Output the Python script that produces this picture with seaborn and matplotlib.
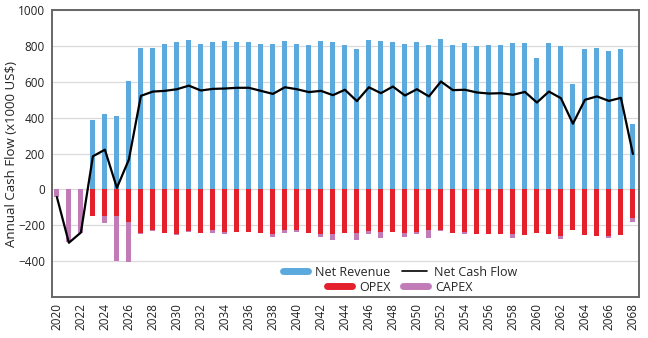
import matplotlib
matplotlib.use("Agg")
import matplotlib.pyplot as plt
from matplotlib.lines import Line2D
import seaborn as sns
import pandas as pd

# Annual cash flow components (x1000 US$)
years = list(range(2020, 2069))
net_revenue = [0, 0, 0, 389, 420, 411, 605, 791, 791, 811,
               822, 831, 809, 820, 828, 820, 820, 809, 811, 828,
               813, 806, 828, 824, 804, 783, 833, 828, 824, 809,
               824, 804, 841, 804, 815, 800, 804, 804, 815, 819,
               733, 815, 800, 587, 781, 791, 774, 783, 365]
opex = [0, 0, 0, -148, -148, -150, -182, -241, -226, -241,
        -246, -232, -241, -226, -235, -235, -235, -244, -246, -226,
        -226, -244, -250, -250, -241, -241, -233, -235, -235, -241,
        -235, -228, -226, -244, -235, -246, -250, -246, -250, -254,
        -244, -246, -259, -228, -254, -259, -259, -254, -161]
capex = [-40, -295, -240, 0, -37, -248, -225, -5, -5, 0,
         -5, -5, 0, -15, -11, 0, 0, 0, -19, -15,
         -11, 0, -13, -31, 0, -40, -13, -37, 0, -26,
         -15, -44, -5, 0, -11, 0, 0, 0, -19, 0,
         0, 0, -15, 0, 0, 0, -10, 0, -20]
net_cash_flow = [-42, -297, -240, 185, 222, 9, 167, 522, 546, 550,
                 559, 579, 552, 561, 563, 567, 567, 550, 533, 570,
                 559, 543, 550, 526, 556, 493, 570, 537, 574, 524,
                 559, 519, 602, 554, 556, 541, 535, 537, 528, 544,
                 485, 546, 509, 367, 500, 519, 494, 511, 198]

df = pd.DataFrame({
    "year": years,
    "revenue": net_revenue,
    "opex": opex,
    "capex": capex,
    "ncf": net_cash_flow,
})
# CAPEX is stacked below OPEX: draw the combined outflow, then OPEX over it
df["outflow"] = df["opex"] + df["capex"]

BLUE = "#5BA9DD"
RED = "#E3202B"
PURPLE = "#C17CB8"
SPINE = "#666666"

sns.set_style("white")
plt.rcParams["font.family"] = ["Open Sans", "DejaVu Sans"]

fig = plt.figure(figsize=(6.48, 3.38), dpi=100)
ax = fig.add_axes([0.080, 0.121, 0.906, 0.849])

bar_kw = dict(native_scale=True, width=0.42, saturation=1, errorbar=None,
              ax=ax, zorder=2, linewidth=0)
sns.barplot(data=df, x="year", y="revenue", color=BLUE, **bar_kw)
sns.barplot(data=df, x="year", y="outflow", color=PURPLE, **bar_kw)
sns.barplot(data=df, x="year", y="opex", color=RED, **bar_kw)
sns.lineplot(data=df, x="year", y="ncf", color="black", linewidth=1.6,
             ax=ax, zorder=3)

ax.set_xlim(2019.58, 2068.5)
ax.set_ylim(-600, 1000)
ax.set_yticks(range(-400, 1001, 200))
ax.set_xticks(years[::2])
ax.set_xticklabels([str(y) for y in years[::2]], rotation=90)
ax.tick_params(axis="both", length=0, labelsize=8.5, colors="#222222")
ax.tick_params(axis="y", pad=5)
ax.tick_params(axis="x", pad=4)
ax.set_xlabel("")
ax.set_ylabel("Annual Cash Flow (x1000 US$)", fontsize=9.5, color="#222222",
              va="center")
ax.yaxis.set_label_coords(-0.068, 0.5)

ax.yaxis.grid(True, color="#DADADA", linewidth=0.9, zorder=0)
ax.set_axisbelow(True)
for side in ["left", "right", "top", "bottom"]:
    ax.spines[side].set_visible(True)
    ax.spines[side].set_color(SPINE)
    ax.spines[side].set_linewidth(1.4)

# Legend in two centred rows
leg_kw = dict(frameon=False, fontsize=9, handlelength=2.0, handletextpad=0.55,
              columnspacing=1.0, ncol=2, borderpad=0, borderaxespad=0)
row1 = [Line2D([], [], color=BLUE, linewidth=5),
        Line2D([], [], color="black", linewidth=1.2)]
row2 = [Line2D([], [], color=RED, linewidth=5),
        Line2D([], [], color=PURPLE, linewidth=5)]
leg1 = ax.legend(row1, ["Net Revenue", "Net Cash Flow"], loc="center",
                 bbox_to_anchor=(0.593, 0.087), **leg_kw)
ax.add_artist(leg1)
ax.legend(row2, ["OPEX", "CAPEX"], loc="center",
          bbox_to_anchor=(0.593, 0.035), **leg_kw)

fig.savefig("out.png", dpi=100)
